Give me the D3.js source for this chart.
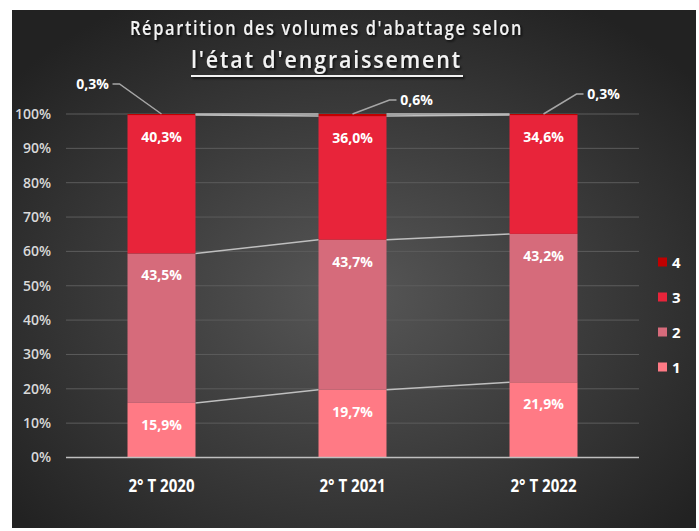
<!DOCTYPE html>
<html>
<head>
<meta charset="utf-8">
<script src="https://cdn.jsdelivr.net/npm/d3@7"></script>
<style>
  body { margin: 0; background: #fff; }
  svg text { font-family: "Open Sans", sans-serif; }
</style>
</head>
<body>
<div id="chart"></div>
<script>
// data
var periods = ['2° T 2020', '2° T 2021', '2° T 2022'];
var seriesNames = ['1', '2', '3', '4'];
var serie1 = [15.9, 19.7, 21.9];
var serie2 = [43.5, 43.7, 43.2];
var serie3 = [40.3, 36.0, 34.6];
var serie4 = [0.3, 0.6, 0.3];
var colors = ['#ff7a85', '#d66b7b', '#e8243a', '#c00000'];

// where the small "4" labels sit, relative to the top of each bar
var leaderOffsets = [{dx: -69, dy: -30}, {dx: 64, dy: -14}, {dx: 60, dy: -20}];

var W = 699, H = 531;
var rows = periods.map((p, i) => ({period: p, '1': serie1[i], '2': serie2[i], '3': serie3[i], '4': serie4[i]}));
var stacked = d3.stack().keys(seriesNames)(rows);

var svg = d3.select('#chart').append('svg')
  .attr('width', W)
  .attr('height', H);

var defs = svg.append('defs');
var grad = defs.append('radialGradient')
  .attr('id', 'bg')
  .attr('cx', '50%').attr('cy', '55%').attr('r', '65%');
grad.append('stop').attr('offset', '0%').attr('stop-color', '#575757');
grad.append('stop').attr('offset', '100%').attr('stop-color', '#222');

var shadow = defs.append('filter').attr('id', 'shadow')
  .attr('filterUnits', 'userSpaceOnUse')
  .attr('x', 0).attr('y', 0).attr('width', W).attr('height', 100);
shadow.append('feDropShadow')
  .attr('dx', 1.5).attr('dy', 1.5).attr('stdDeviation', 1.2)
  .attr('flood-color', '#000').attr('flood-opacity', 0.8);

svg.append('rect')
  .attr('x', 12).attr('y', 10)
  .attr('width', 684).attr('height', 518)
  .attr('fill', 'url(#bg)');

var x = d3.scaleBand()
  .domain(periods)
  .range([66, 639])
  .paddingInner(0.644)
  .paddingOuter(0.322);

var y = d3.scaleLinear()
  .domain([0, 100])
  .range([457.5, 114]);

// gridlines
svg.append('g')
  .selectAll('line')
  .data(d3.range(10, 101, 10))
  .join('line')
    .attr('x1', 66).attr('x2', 639)
    .attr('y1', d => y(d)).attr('y2', d => y(d))
    .attr('stroke', '#5c5c5c')
    .attr('stroke-width', 1);

// y axis
var yAxis = svg.append('g')
  .attr('transform', 'translate(66,0)')
  .call(d3.axisLeft(y).tickValues(d3.range(0, 101, 10)).tickFormat(d => d + '%').tickSize(0).tickPadding(15));
yAxis.select('.domain').remove();
yAxis.selectAll('text')
  .attr('fill', '#d9d9d9')
  .style('font-size', '14px')
  .style('font-weight', 600)
  .style('font-family', '"Open Sans", sans-serif');

// bars
svg.append('g')
  .selectAll('g')
  .data(stacked)
  .join('g')
    .attr('fill', (d, i) => colors[i])
  .selectAll('rect')
  .data(d => d)
  .join('rect')
    .attr('x', d => x(d.data.period))
    .attr('width', x.bandwidth())
    .attr('y', d => y(d[1]))
    .attr('height', d => y(d[0]) - y(d[1]));

// series lines between bars
var seriesLines = [];
stacked.forEach(s => {
  for (var i = 0; i < s.length - 1; i++) {
    seriesLines.push({
      x1: x(s[i].data.period) + x.bandwidth(), y1: y(s[i][1]),
      x2: x(s[i + 1].data.period), y2: y(s[i + 1][1])
    });
  }
});
svg.append('g')
  .selectAll('line')
  .data(seriesLines)
  .join('line')
    .attr('x1', d => d.x1).attr('y1', d => d.y1)
    .attr('x2', d => d.x2).attr('y2', d => d.y2)
    .attr('stroke', '#bfbfbf')
    .attr('stroke-width', 1.5);

// x axis line
svg.append('line')
  .attr('x1', 66).attr('x2', 639)
  .attr('y1', y(0)).attr('y2', y(0))
  .attr('stroke', '#bfbfbf')
  .attr('stroke-width', 1.5);

// x labels
svg.append('g')
  .selectAll('text')
  .data(periods)
  .join('text')
    .attr('x', d => x(d) + x.bandwidth() / 2)
    .attr('y', 492)
    .attr('text-anchor', 'middle')
    .attr('textLength', 66)
    .attr('lengthAdjust', 'spacingAndGlyphs')
    .attr('fill', '#fff')
    .style('font-size', '17px')
    .style('font-weight', 700)
    .text(d => d);

var fmt = v => v.toFixed(1).replace('.', ',') + '%';

// labels inside the segments (series 1 to 3)
svg.append('g')
  .selectAll('text')
  .data(stacked.slice(0, 3).flatMap(s => s.map(d => ({d: d, v: d[1] - d[0]}))))
  .join('text')
    .attr('x', o => x(o.d.data.period) + x.bandwidth() / 2)
    .attr('y', o => y(o.d[1]) + 27)
    .attr('text-anchor', 'middle')
    .attr('fill', '#fff')
    .style('font-size', '14px')
    .style('font-weight', 700)
    .text(o => fmt(o.v));

// series 4 labels with leader lines
var top4 = stacked[3];
var leaders = svg.append('g');
top4.forEach((d, i) => {
  var bx = x(d.data.period) + x.bandwidth() / 2;
  var by = y(d[1]);
  var lx = bx + leaderOffsets[i].dx;
  var ly = by + leaderOffsets[i].dy;
  var side = leaderOffsets[i].dx < 0 ? 1 : -1;
  var elbow = lx + side * (16 + 11);
  var end = lx + side * (16 + 4);
  leaders.append('path')
    .attr('d', d3.line()([[bx, by], [elbow, ly], [end, ly]]))
    .attr('fill', 'none')
    .attr('stroke', '#a6a6a6')
    .attr('stroke-width', 1.5);
  leaders.append('text')
    .attr('x', lx)
    .attr('y', ly + 5)
    .attr('text-anchor', 'middle')
    .attr('fill', '#fff')
    .style('font-size', '14px')
    .style('font-weight', 700)
    .text(fmt(d[1] - d[0]));
});

// legend
var legend = svg.append('g')
  .selectAll('g')
  .data(seriesNames.slice().reverse())
  .join('g')
    .attr('transform', (d, i) => `translate(658, ${262 + i * 35})`);
legend.append('rect')
  .attr('x', 0).attr('y', -4.5)
  .attr('width', 9).attr('height', 9)
  .attr('fill', d => colors[seriesNames.indexOf(d)]);
legend.append('text')
  .attr('x', 14).attr('y', 5.5)
  .attr('fill', '#fff')
  .style('font-size', '15px')
  .style('font-weight', 700)
  .text(d => d);

// title
var title = svg.append('g').attr('filter', 'url(#shadow)');
title.append('text')
  .attr('x', 326.5).attr('y', 35)
  .attr('text-anchor', 'middle')
  .attr('textLength', 393)
  .attr('lengthAdjust', 'spacingAndGlyphs')
  .attr('fill', '#f2f2f2')
  .style('font-size', '20px')
  .style('letter-spacing', '2px')
  .style('font-weight', 600)
  .text("Répartition des volumes d'abattage selon");

title.append('text')
  .attr('x', 326.5).attr('y', 68)
  .attr('text-anchor', 'middle')
  .attr('textLength', 271)
  .attr('lengthAdjust', 'spacingAndGlyphs')
  .attr('fill', '#f2f2f2')
  .style('font-size', '23px')
  .style('letter-spacing', '2px')
  .style('font-weight', 600)
  .text("l'état d'engraissement");

title.append('rect')
  .attr('x', 191).attr('y', 75)
  .attr('width', 272).attr('height', 2)
  .attr('fill', '#f2f2f2');
</script>
</body>
</html>
